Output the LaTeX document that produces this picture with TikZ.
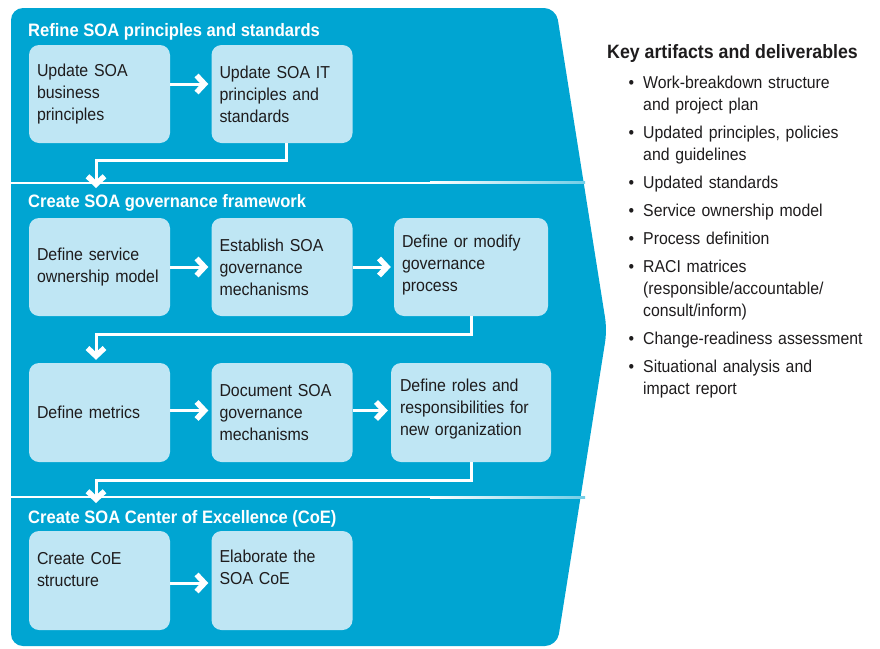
\documentclass[tikz,border=0pt]{standalone}
\usepackage{fontspec}
\setmainfont{Liberation Sans}[FakeStretch=0.92]
\usepackage{enumitem}
\usetikzlibrary{arrows.meta,positioning}

\definecolor{panelblue}{HTML}{00A5D2}
\definecolor{boxblue}{HTML}{BFE6F4}
\definecolor{inktext}{HTML}{1E1C1D}

\tikzstyle{sblock} = [rectangle, fill=boxblue, text=inktext, text width=125pt, inner xsep=8pt, inner ysep=0pt, minimum height=98pt, align=left, rounded corners=10pt, font=\fontsize{17.3}{22}\selectfont]
\tikzstyle{phase} = [anchor=base west, text=white, inner sep=0pt, font=\bfseries\fontsize{18}{22}\selectfont]
\tikzstyle{flow} = [white, line width=3pt, -{Straight Barb[length=8pt,width=17pt,line width=5.5pt,sharp]}]
\tikzstyle{split} = [white, line width=2pt]

\begin{document}
\begin{tikzpicture}[x=1pt, y=-1pt, node distance=182.5pt]
    \useasboundingbox (0,0) rectangle (880,648);
    % blue panel with the pointed right side
    \fill[panelblue, rounded corners=12pt] (11,330) -- (11,8) -- (556,8) -- (607,330) -- (557,646) -- (11,646) -- cycle;
    \draw[split] (11,182.5) -- (430,182.5);
    \shade[left color=white, right color=panelblue!55!white] (430,181.5) rectangle (585,183.5);
    \draw[split] (11,497) -- (430,497);
    \shade[left color=white, right color=panelblue!55!white] (430,496) rectangle (585,498);

    \node (p1) [phase] at (28,36) {Refine SOA principles and standards};
    \node (p2) [phase] at (28,207) {Create SOA governance framework};
    \node (p3) [phase] at (28,523) {Create SOA Center of Excellence (CoE)};

    \node (a1) [sblock] at (99.5,94) {Update SOA\\business\\principles};
    \node (a2) [sblock, right of = a1] {Update SOA IT\\principles and\\standards};

    \node (b1) [sblock] at (99.5,267) {Define service\\ownership model};
    \node (b2) [sblock, right of = b1] {Establish SOA\\governance\\mechanisms};
    \node (b3) [sblock, right of = b2, xshift=6.5pt, text width=138pt, text depth=52pt] {Define or modify\\governance\\process};

    \node (c1) [sblock, minimum height=99pt] at (99.5,412.5) {Define metrics};
    \node (c2) [sblock, minimum height=99pt, right of = c1] {Document SOA\\governance\\mechanisms};
    \node (c3) [sblock, minimum height=99pt, right of = c2, xshift=6.5pt, text width=142pt, inner xsep=9pt, text depth=54pt] {Define roles and\\responsibilities for\\new organization};

    \node (d1) [sblock, minimum height=99pt, text depth=44pt] at (99.5,580.5) {Create CoE\\structure};
    \node (d2) [sblock, minimum height=99pt, text depth=48pt, right of = d1] {Elaborate the\\SOA CoE};

    \coordinate (in2) at (96,188);
    \coordinate (in4) at (96,503);
    \draw [flow] ([yshift=10pt]a1.east) -- ([xshift=-3pt,yshift=10pt]a2.west);
    \draw [flow] ([xshift=4pt]a2.south) -- ++(0pt,-17pt) -| (in2);
    \draw [flow] (b1) -- ([xshift=-3pt]b2.west);
    \draw [flow] (b2) -- ([xshift=-3pt]b3.west);
    \draw [flow] (b3.south) -- ++(0pt,-18pt) -| ([xshift=-3.5pt,yshift=3pt]c1.north);
    \draw [flow] ([yshift=2pt]c1.east) -- ([xshift=-3pt,yshift=2pt]c2.west);
    \draw [flow] ([yshift=2pt]c2.east) -- ([xshift=-3pt,yshift=2pt]c3.west);
    \draw [flow] (c3.south) -- ++(0pt,-18pt) -| (in4);
    \draw [flow] ([yshift=-2.5pt]d1.east) -- ([xshift=-3pt,yshift=-2.5pt]d2.west);

    \node (keyhead) [anchor=base west, inner sep=0pt, text=inktext, font=\bfseries\fontsize{19.3}{22}\selectfont] at (607,58) {Key artifacts and deliverables};
    \node (keylist) [anchor=north west, inner sep=0pt, text width=260pt, text=inktext, font=\fontsize{17.2}{22}\selectfont] at (611,66) {%
        \begin{itemize}[leftmargin=32pt, labelsep=9pt, topsep=0pt, partopsep=0pt, parsep=0pt, itemsep=6pt]
        \item Work-breakdown structure\\and project plan
        \item Updated principles, policies\\and guidelines
        \item Updated standards
        \item Service ownership model
        \item Process definition
        \item RACI matrices\\(responsible/accountable/\\consult/inform)
        \item Change-readiness assessment
        \item Situational analysis and\\impact report
        \end{itemize}};
\end{tikzpicture}
\end{document}
